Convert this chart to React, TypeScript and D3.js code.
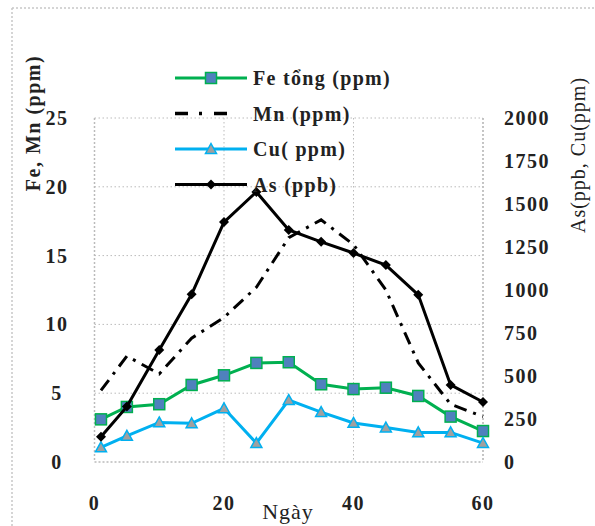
import React from "react";
import * as d3 from "d3";

const days = [1, 5, 10, 15, 20, 25, 30, 35, 40, 45, 50, 55, 60];
const feTong = [3.1, 4.0, 4.2, 5.6, 6.3, 7.2, 7.25, 5.65, 5.3, 5.4, 4.8, 3.3, 2.25];
const mn = [5.2, 7.7, 6.4, 9.0, 10.5, 12.7, 16.3, 17.6, 15.8, 12.5, 7.2, 4.2, 3.3];
const cu = [85, 152, 230, 225, 312, 110, 360, 290, 227, 200, 172, 172, 110];
const asPpb = [147, 322, 651, 975, 1395, 1570, 1349, 1280, 1215, 1145, 972, 448, 349];

const xTicks = [0, 20, 40, 60];
const leftTicks = [0, 5, 10, 15, 20, 25];
const rightTicks = [0, 250, 500, 750, 1000, 1250, 1500, 1750, 2000];
const legendLabels = ["Fe tổng (ppm)", "Mn (ppm)", "Cu( ppm)", "As (ppb)"];

const W = 595, H = 526;
const L = 94.5, R = 483, T = 118, B = 462;
const FONT = "'Liberation Serif', 'Times New Roman', serif";

export default function App() {
  const x = d3.scaleLinear().domain([0, 60]).range([L, R]);
  const yL = d3.scaleLinear().domain([0, 25]).range([B, T]);
  const yR = d3.scaleLinear().domain([0, 2000]).range([B, T]);

  const lineL = d3.line<number>().x((_, i) => x(days[i])).y((d) => yL(d));
  const lineR = d3.line<number>().x((_, i) => x(days[i])).y((d) => yR(d));

  const green = "#00B050";
  const cyan = "#00B0F0";
  const grid = "#BBBBBB";

  const tri = (cx: number, cy: number, s: number) =>
    `M${cx},${cy - s} L${cx + s},${cy + s * 0.8} L${cx - s},${cy + s * 0.8} Z`;
  const dia = (cx: number, cy: number, s: number) =>
    `M${cx},${cy - s} L${cx + s},${cy} L${cx},${cy + s} L${cx - s},${cy} Z`;

  const legY = [78, 113.5, 149, 184.5];
  const legX0 = 175, legX1 = 247, legXm = 211;

  return (
    <svg width={W} height={H} style={{ position: "absolute", left: 0, top: 0, background: "#fff" }}>
      {/* outer border */}
      <line x1={12} y1={8} x2={W} y2={8} stroke="#C8C8C8" strokeWidth={1.5} strokeDasharray="2,2" />
      <line x1={12} y1={8} x2={12} y2={H} stroke="#C8C8C8" strokeWidth={1.5} strokeDasharray="2,2" />

      {/* gridlines */}
      {leftTicks.slice(1).map((t) => (
        <line key={"gy" + t} x1={L} x2={R} y1={yL(t)} y2={yL(t)} stroke={grid} strokeDasharray="1.5,2.5" />
      ))}
      {xTicks.slice(1).map((t) => (
        <line key={"gx" + t} x1={x(t)} x2={x(t)} y1={T} y2={B} stroke={grid} strokeDasharray="1.5,2.5" />
      ))}
      {/* axes */}
      <line x1={L} x2={L} y1={T} y2={B} stroke={grid} strokeWidth={1.5} strokeDasharray="2,2" />
      <line x1={L} x2={R} y1={B} y2={B} stroke={grid} strokeWidth={1.5} strokeDasharray="2,2" />
      <line x1={R} x2={R} y1={T} y2={B} stroke={grid} strokeWidth={1.5} strokeDasharray="2,2" />

      {/* tick labels */}
      <g fontFamily={FONT} fontWeight="bold" fontSize={20} fill="#222" letterSpacing={1.5}>
        {leftTicks.map((t) => (
          <text key={"l" + t} x={57} y={yL(t) + 7} textAnchor="middle">{t}</text>
        ))}
        {rightTicks.map((t) => (
          <text key={"r" + t} x={504} y={yR(t) + 7} textAnchor="start">{t}</text>
        ))}
        {xTicks.map((t) => (
          <text key={"x" + t} x={x(t)} y={510} textAnchor="middle">{t}</text>
        ))}
      </g>

      {/* axis titles */}
      <text transform="translate(40,123) rotate(-90)" textAnchor="middle" fontFamily={FONT} fontWeight="bold" fontSize={20} letterSpacing={1.5} fill="#222">Fe, Mn (ppm)</text>
      <text transform="translate(585,155) rotate(-90)" textAnchor="middle" fontFamily={FONT} fontSize={20} letterSpacing={1} fill="#222">As(ppb, Cu(ppm)</text>
      <text x={288} y={519} textAnchor="middle" fontFamily={FONT} fontSize={22} letterSpacing={1} fill="#222">Ngày</text>

      {/* Mn dash-dot */}
      <path d={lineL(mn) || ""} fill="none" stroke="#000" strokeWidth={3} strokeDasharray="13,7,3,7" />
      {/* Fe */}
      <path d={lineL(feTong) || ""} fill="none" stroke={green} strokeWidth={3} />
      {feTong.map((v, i) => (
        <rect key={"fe" + i} x={x(days[i]) - 5.5} y={yL(v) - 5.5} width={11} height={11} fill="#4F81BD" stroke={green} strokeWidth={1.5} />
      ))}
      {/* Cu */}
      <path d={lineR(cu) || ""} fill="none" stroke={cyan} strokeWidth={3} />
      {cu.map((v, i) => (
        <path key={"cu" + i} d={tri(x(days[i]), yR(v), 5.5)} fill="#A0A0A0" stroke={cyan} strokeWidth={1.5} />
      ))}
      {/* As */}
      <path d={lineR(asPpb) || ""} fill="none" stroke="#000" strokeWidth={3} />
      {asPpb.map((v, i) => (
        <path key={"as" + i} d={dia(x(days[i]), yR(v), 5)} fill="#000" />
      ))}

      {/* legend */}
      <g>
        <line x1={legX0} x2={legX1} y1={legY[0]} y2={legY[0]} stroke={green} strokeWidth={3} />
        <rect x={legXm - 5.5} y={legY[0] - 5.5} width={11} height={11} fill="#4F81BD" stroke={green} strokeWidth={1.5} />
        <line x1={legX0} x2={233} y1={legY[1]} y2={legY[1]} stroke="#000" strokeWidth={3.5} strokeDasharray="13,11,3,12" />
        <line x1={legX0} x2={legX1} y1={legY[2]} y2={legY[2]} stroke={cyan} strokeWidth={3} />
        <path d={tri(legXm, legY[2], 5.5)} fill="#A0A0A0" stroke={cyan} strokeWidth={1.5} />
        <line x1={legX0} x2={legX1} y1={legY[3]} y2={legY[3]} stroke="#000" strokeWidth={3} />
        <path d={dia(legXm, legY[3], 5)} fill="#000" />
        {legendLabels.map((lab, i) => (
          <text key={lab} x={253} y={legY[i] + 7} fontFamily={FONT} fontWeight="bold" fontSize={20} letterSpacing={1.3} fill="#222">{lab}</text>
        ))}
      </g>
    </svg>
  );
}
